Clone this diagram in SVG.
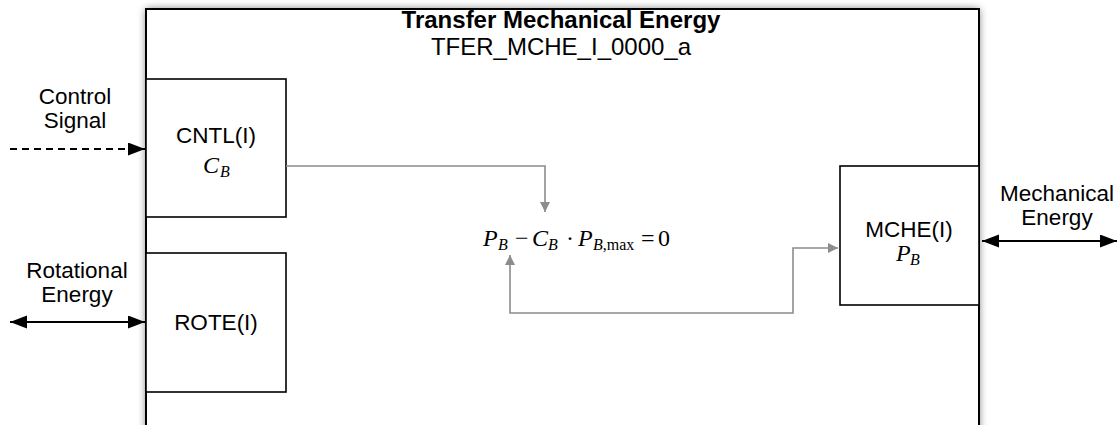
<svg xmlns="http://www.w3.org/2000/svg" width="1119" height="425" viewBox="0 0 1119 425">
  <defs>
    <filter id="shadow" x="-5%" y="-10%" width="110%" height="120%">
      <feGaussianBlur stdDeviation="4"/>
    </filter>
    <marker id="grayArrow" markerUnits="userSpaceOnUse" markerWidth="12" markerHeight="12" refX="10" refY="5" orient="auto-start-reverse">
      <path d="M0,0 L10,5 L0,10 z" fill="#8c8c8c"/>
    </marker>
    <marker id="blackArrow" markerUnits="userSpaceOnUse" markerWidth="18" markerHeight="14" refX="17" refY="6.5" orient="auto-start-reverse">
      <path d="M0,0 L17,6.5 L0,13 z" fill="#000"/>
    </marker>
    <style>
      .lbl { font-family: "Liberation Sans", Arial, sans-serif; font-size: 22.5px; fill: #000; text-anchor: middle; }
      .big { font-size: 24px; }
      .ttl { font-weight: bold; }
      .box { fill: #fff; stroke: #000; stroke-width: 1.6; }
      .gray { fill: none; stroke: #8c8c8c; stroke-width: 1.6; }
      .blk { fill: none; stroke: #000; stroke-width: 1.8; }
      .math { font-family: "Liberation Serif", "Times New Roman", serif; font-size: 24px; fill: #000; }
      .it { font-style: italic; }
      .sub { font-size: 16px; }
    </style>
  </defs>

  <g id="outer">
    <rect x="146" y="9" width="833" height="440" fill="#000" opacity="0.55" filter="url(#shadow)"/>
    <rect x="146" y="9" width="833" height="440" fill="#fff" stroke="#000" stroke-width="2"/>
    <text class="lbl big ttl" x="561" y="28">Transfer Mechanical Energy</text>
    <text class="lbl big" x="561" y="55">TFER_MCHE_I_0000_a</text>
  </g>

  <g id="cntl">
    <rect class="box" x="146" y="79" width="140" height="138"/>
    <text class="lbl" x="216" y="143">CNTL(I)</text>
    <text class="math it" x="203" y="173">C</text>
    <text class="math it sub" x="220" y="177">B</text>
  </g>

  <g id="rote">
    <rect class="box" x="146" y="253" width="140" height="139"/>
    <text class="lbl" x="216" y="330">ROTE(I)</text>
  </g>

  <g id="mche">
    <rect class="box" x="840" y="166" width="139" height="139"/>
    <text class="lbl" x="909" y="237">MCHE(I)</text>
    <text class="math it" x="896" y="261">P</text>
    <text class="math it sub" x="910" y="265">B</text>
  </g>

  <g id="equation">
    <text class="math it" x="483" y="246">P</text>
    <text class="math it sub" x="498" y="250">B</text>
    <text class="math" x="515" y="246">−</text>
    <text class="math it" x="532" y="246">C</text>
    <text class="math it sub" x="548" y="250">B</text>
    <text class="math" x="566" y="246">·</text>
    <text class="math it" x="578" y="246">P</text>
    <text class="math sub" x="593" y="250"><tspan class="it">B</tspan>,max</text>
    <text class="math" x="641" y="246">=</text>
    <text class="math" x="658" y="246">0</text>
  </g>

  <g id="external-labels">
    <text class="lbl" x="75" y="104">Control</text>
    <text class="lbl" x="75" y="128">Signal</text>
    <text class="lbl" x="77" y="278">Rotational</text>
    <text class="lbl" x="77" y="302">Energy</text>
    <text class="lbl" x="1057" y="201">Mechanical</text>
    <text class="lbl" x="1057" y="225">Energy</text>
  </g>

  <g id="connectors">
    <path class="gray" d="M286,166 H545 V212" marker-end="url(#grayArrow)"/>
    <path class="gray" d="M510,255 V313 H793 V248 H838" marker-start="url(#grayArrow)" marker-end="url(#grayArrow)"/>
    <path class="blk" d="M10,149 H145" stroke-dasharray="7,5" marker-end="url(#blackArrow)"/>
    <path class="blk" d="M10,322 H145" marker-start="url(#blackArrow)" marker-end="url(#blackArrow)"/>
    <path class="blk" d="M982,241 H1117" marker-start="url(#blackArrow)" marker-end="url(#blackArrow)"/>
  </g>
</svg>
